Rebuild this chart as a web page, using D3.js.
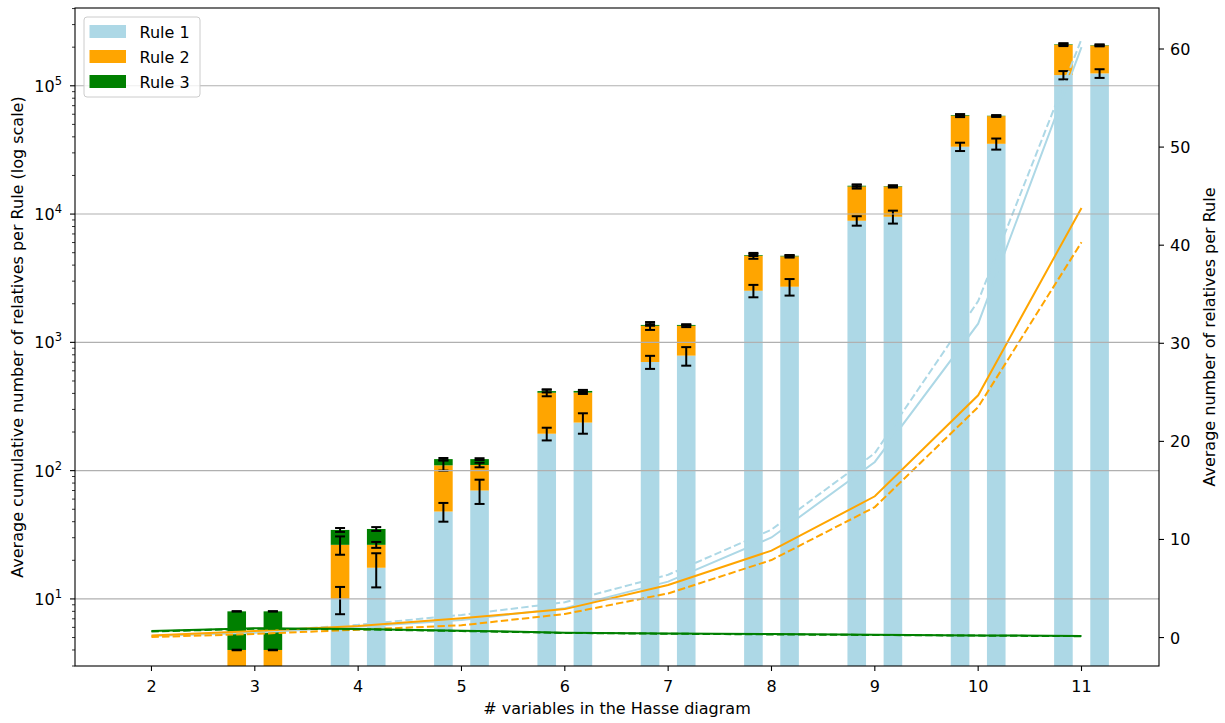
<!DOCTYPE html>
<html lang="en">
<head>
<meta charset="UTF-8">
<title>Relatives per Rule</title>
<script src="https://d3js.org/d3.v7.min.js"></script>
<style>
    body { margin: 0; background: #fff; }
    text { font-family: "DejaVu Sans", sans-serif; fill: #000; }
</style>
</head>
<body>
<div id="chart"></div>
<script>
// x values
const nVars = [2, 3, 4, 5, 6, 7, 8, 9, 10, 11];
const barVars = [3, 4, 5, 6, 7, 8, 9, 10, 11];

// left bar of each pair: segment sizes and std
const rule1A = [2, 10, 48, 194, 703, 2525, 8870, 33500, 121200];
const rule2A = [2, 16.4, 62, 211, 642, 2205, 7530, 25000, 87800];
const rule3A = [4, 8.1, 13, 12, 22, 60, 230, 700, 2000];
const err1A = [0.02, 2.4, 8, 22, 82, 280, 750, 2500, 9000];
const err2A = [0.02, 4.3, 10, 25, 95, 250, 600, 1500, 5000];
const err3A = [0.02, 1.2, 2.5, 10, 20, 80, 300, 800, 3000];

// right bar of each pair
const rule1B = [2, 17.5, 70, 237, 788, 2715, 9530, 35300, 124900];
const rule2B = [2, 8.9, 40.7, 169, 557, 1965, 6870, 22700, 81100];
const rule3B = [4, 8.7, 12.3, 12, 22, 50, 130, 400, 1500];
const err1B = [0.02, 5.2, 15, 43, 130, 400, 1100, 3500, 9700];
const err2B = [0.02, 1.4, 4.5, 10, 30, 100, 300, 800, 3000];
const err3B = [0.02, 1.2, 2, 8, 15, 60, 200, 600, 2500];

// average number of relatives per rule (right axis)
const avg1A = [0.15, 0.5, 1.1, 1.8, 3.0, 5.7, 10.2, 17.9, 32.0, 60.2];
const avg1B = [0.15, 0.6, 1.3, 2.3, 3.6, 6.4, 11.0, 18.8, 34.3, 61.0];
const avg2A = [0.2, 0.67, 1.18, 1.96, 2.9, 5.36, 8.86, 14.4, 24.7, 43.8];
const avg2B = [0.05, 0.37, 0.8, 1.25, 2.4, 4.5, 7.9, 13.3, 23.5, 40.3];
const avg3A = [0.67, 0.95, 0.88, 0.7, 0.5, 0.42, 0.35, 0.28, 0.22, 0.16];
const avg3B = [0.62, 0.9, 0.84, 0.66, 0.47, 0.39, 0.32, 0.26, 0.2, 0.14];

const ruleNames = ["Rule 1", "Rule 2", "Rule 3"];
const colors = ["#add8e6", "#ffa500", "#008000"];
const leftTicks = [10, 100, 1000, 10000, 100000];
const rightTicks = [0, 10, 20, 30, 40, 50, 60];

const margin = { top: 8, right: 66, bottom: 57, left: 75 };
const width = 1225 - margin.left - margin.right;
const height = 723 - margin.top - margin.bottom;

const svg = d3.select("#chart").append("svg")
    .attr("width", 1225).attr("height", 723);
const g = svg.append("g").attr("transform", `translate(${margin.left},${margin.top})`);

svg.append("defs").append("clipPath").attr("id", "plotclip")
    .append("rect").attr("width", width).attr("height", height);

const x = d3.scaleLinear().domain([1.26, 11.75]).range([0, width]);
const y = d3.scaleLog().domain([3.0, 4.04e5]).range([height, 0]);
const y2 = d3.scaleLinear().domain([-2.9, 64.18]).range([height, 0]);

const barW = 0.18;
const offset = 0.175;
const plot = g.append("g").attr("clip-path", "url(#plotclip)");

function stackSet(r1, r2, r3, e1, e2, e3, dx) {
    return barVars.map((n, i) => {
        const c1 = r1[i], c2 = r1[i] + r2[i], c3 = c2 + r3[i];
        return {
            x: n + dx,
            segs: [[0.01, c1], [c1, c2], [c2, c3]],
            errs: [[c1, e1[i]], [c2, e2[i]], [c3, e3[i]]]
        };
    });
}
const sets = [
    stackSet(rule1A, rule2A, rule3A, err1A, err2A, err3A, -offset),
    stackSet(rule1B, rule2B, rule3B, err1B, err2B, err3B, offset)
];

// bars
sets.forEach(set => {
    set.forEach(d => {
        d.segs.forEach((s, k) => {
            const top = y(s[1]);
            const bot = Math.min(y(s[0]), height + 5);
            plot.append("rect")
                .attr("x", x(d.x - barW / 2))
                .attr("width", x(d.x + barW / 2) - x(d.x - barW / 2))
                .attr("y", top)
                .attr("height", Math.max(0, bot - top))
                .attr("fill", colors[k]);
        });
    });
});

// grid
g.append("g").selectAll("line").data(leftTicks).join("line")
    .attr("x1", 0).attr("x2", width)
    .attr("y1", d => y(d)).attr("y2", d => y(d))
    .attr("stroke", "#b0b0b0").attr("stroke-width", 1.1);

// error bars
sets.forEach(set => {
    set.forEach(d => {
        d.errs.forEach(([v, e]) => {
            const cx = x(d.x);
            const y1 = y(Math.max(v - e, 0.5)), y0 = y(v + e);
            const eg = plot.append("g").attr("stroke", "#000").attr("stroke-width", 2);
            eg.append("line").attr("x1", cx).attr("x2", cx).attr("y1", y0).attr("y2", y1);
            eg.append("line").attr("x1", cx - 5).attr("x2", cx + 5).attr("y1", y0).attr("y2", y0);
            eg.append("line").attr("x1", cx - 5).attr("x2", cx + 5).attr("y1", y1).attr("y2", y1);
        });
    });
});

// lines on right axis
const line = d3.line().x((d, i) => x(nVars[i])).y(d => y2(d));
const lineSets = [
    [avg1A, colors[0], null], [avg1B, colors[0], "7.4,3.2"],
    [avg2A, colors[1], null], [avg2B, colors[1], "7.4,3.2"],
    [avg3A, colors[2], null], [avg3B, colors[2], "7.4,3.2"]
];
lineSets.forEach(([vals, col, dash]) => {
    plot.append("path").datum(vals)
        .attr("fill", "none").attr("stroke", col).attr("stroke-width", 2)
        .attr("stroke-dasharray", dash)
        .attr("d", line);
});

// axes: x
const xAxis = g.append("g").attr("transform", `translate(0,${height})`);
nVars.forEach(n => {
    xAxis.append("line").attr("x1", x(n)).attr("x2", x(n)).attr("y1", 0).attr("y2", 5)
        .attr("stroke", "#000").attr("stroke-width", 1.1);
    xAxis.append("text").attr("x", x(n)).attr("y", 25.7)
        .attr("text-anchor", "middle").attr("font-size", 16).text(n);
});

// left log axis with minor ticks
const leftAxis = g.append("g");
const minor = [];
for (let p = 0; p <= 5; p++) for (let m = 2; m <= 9; m++) {
    const v = m * Math.pow(10, p);
    if (v >= 3.0 && v <= 4.04e5) minor.push(v);
}
leftAxis.selectAll(".minor").data(minor).join("line")
    .attr("x1", -3).attr("x2", 0).attr("y1", d => y(d)).attr("y2", d => y(d))
    .attr("stroke", "#000").attr("stroke-width", 0.8);
leftTicks.forEach(v => {
    const yy = y(v);
    leftAxis.append("line").attr("x1", -5).attr("x2", 0).attr("y1", yy).attr("y2", yy)
        .attr("stroke", "#000").attr("stroke-width", 1.1);
    const t = leftAxis.append("text").attr("x", -13).attr("y", yy + 6)
        .attr("text-anchor", "end").attr("font-size", 16);
    t.append("tspan").text("10");
    t.append("tspan").attr("font-size", 11.5).attr("dy", -7).text(Math.round(Math.log10(v)));
});

// right axis
const rightAxis = g.append("g").attr("transform", `translate(${width},0)`);
rightTicks.forEach(v => {
    rightAxis.append("line").attr("x1", 0).attr("x2", 5).attr("y1", y2(v)).attr("y2", y2(v))
        .attr("stroke", "#000").attr("stroke-width", 1.1);
    rightAxis.append("text").attr("x", 11).attr("y", y2(v) + 6)
        .attr("font-size", 16).text(v);
});

// frame
g.append("rect").attr("width", width).attr("height", height)
    .attr("fill", "none").attr("stroke", "#000").attr("stroke-width", 1.1);

// axis labels
g.append("text").attr("x", width / 2).attr("y", height + 48)
    .attr("text-anchor", "middle").attr("font-size", 16)
    .text("# variables in the Hasse diagram");
g.append("text").attr("transform", `translate(-52.5,${height / 2}) rotate(-90)`)
    .attr("text-anchor", "middle").attr("font-size", 16)
    .text("Average cumulative number of relatives per Rule (log scale)");
g.append("text").attr("transform", `translate(${width + 56},${height / 2}) rotate(-90)`)
    .attr("text-anchor", "middle").attr("font-size", 16)
    .text("Average number of relatives per Rule");

// legend
const legend = g.append("g").attr("transform", "translate(9,9)");
legend.append("rect").attr("width", 116).attr("height", 80).attr("rx", 3)
    .attr("fill", "#fff").attr("fill-opacity", 0.8)
    .attr("stroke", "#cccccc").attr("stroke-width", 1);
ruleNames.forEach((name, i) => {
    legend.append("rect").attr("x", 5.5).attr("y", 8 + i * 25).attr("width", 36.5).attr("height", 13)
        .attr("fill", colors[i]);
    legend.append("text").attr("x", 55.5).attr("y", 20.5 + i * 25)
        .attr("font-size", 16).text(name);
});
</script>
</body>
</html>
